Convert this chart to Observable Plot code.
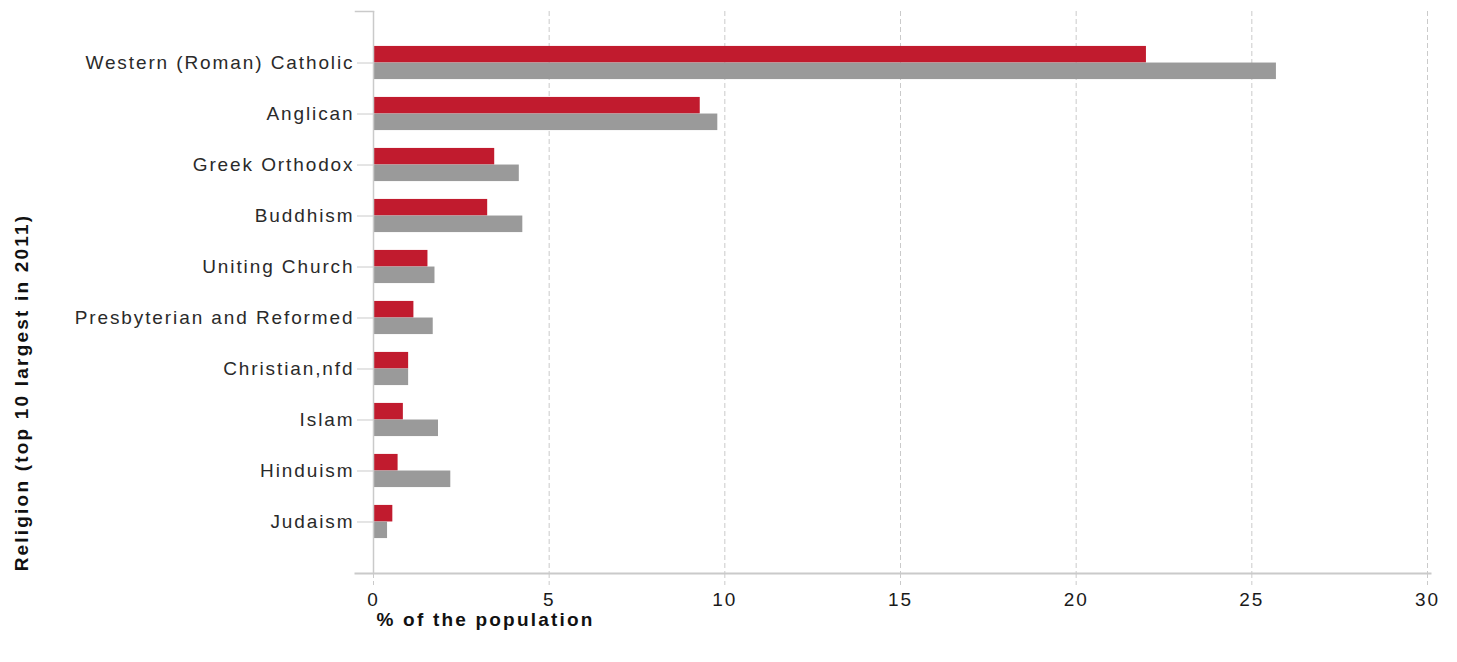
<!DOCTYPE html>
<html>
<head>
<meta charset="utf-8">
<script src="https://cdn.jsdelivr.net/npm/d3@7"></script>
<script src="https://cdn.jsdelivr.net/npm/@observablehq/plot@0.6"></script>
<style>
  html, body { margin: 0; padding: 0; background: #fff; }
  #chart svg text { letter-spacing: 1.9px; }
  #chart svg text.title { letter-spacing: 2.2px; }
</style>
</head>
<body>
<div id="chart"></div>
<script>
const religions = [
  "Western (Roman) Catholic",
  "Anglican",
  "Greek Orthodox",
  "Buddhism",
  "Uniting Church",
  "Presbyterian and Reformed",
  "Christian,nfd",
  "Islam",
  "Hinduism",
  "Judaism"
];
const redValues  = [22.0, 9.3, 3.45, 3.25, 1.55, 1.15, 1.0, 0.85, 0.7, 0.55];
const grayValues = [25.7, 9.8, 4.15, 4.25, 1.75, 1.7, 1.0, 1.85, 2.2, 0.4];
const xTicks = [0, 5, 10, 15, 20, 25, 30];
const yTitle = "Religion (top 10 largest in 2011)";
const xTitle = "% of the population";

const redData = religions.map((r, i) => ({religion: r, value: redValues[i]}));
const grayData = religions.map((r, i) => ({religion: r, value: grayValues[i]}));

const RED = "#c11b2e";
const GRAY = "#9a9a9a";
const LINE = "#cacaca";

const chart = Plot.plot({
  width: 1457,
  height: 662,
  marginLeft: 373,
  marginRight: 30,
  marginTop: 11,
  marginBottom: 89,
  style: {fontFamily: "'Liberation Sans', Arial, sans-serif", fontSize: "19px", color: "#222", background: "#fff"},
  x: {domain: [0, 30], ticks: xTicks, label: null},
  y: {domain: religions, paddingInner: 0.35, paddingOuter: 0.685, round: false, label: null},
  marks: [
    Plot.gridX(xTicks.filter(d => d > 0), {stroke: LINE, strokeOpacity: 1, strokeDasharray: "5,3"}),
    Plot.barX(redData, {y: "religion", x: "value", fill: RED, insetBottom: 16.6}),
    Plot.barX(grayData, {y: "religion", x: "value", fill: GRAY, insetTop: 16.6}),
    Plot.ruleX([0], {stroke: LINE, strokeWidth: 1.5}),
    Plot.frame({anchor: "bottom", stroke: LINE, strokeWidth: 2, insetLeft: -18, insetRight: -3}),
    Plot.frame({anchor: "top", stroke: LINE, strokeWidth: 1.5, insetLeft: -18, insetRight: 1054}),
    Plot.axisX({ticks: xTicks, tickSize: 12, tickPadding: 7, stroke: LINE, strokeDasharray: "5,3", fill: "#1a1a1a", label: null, fontSize: 19}),
    Plot.axisY({tickSize: 16, tickPadding: 3, stroke: LINE, fill: "#2a2a2a", label: null, fontSize: 19}),
    Plot.text([yTitle], {frameAnchor: "left", textAnchor: "middle", lineAnchor: "middle", rotate: -90, dx: -352, dy: 100, fontWeight: "bold", fontSize: 19, fill: "#111", className: "title"}),
    Plot.text([xTitle], {frameAnchor: "bottom-left", textAnchor: "start", lineAnchor: "middle", dx: 3, dy: 46, fontWeight: "bold", fontSize: 19, fill: "#111", className: "title"})
  ]
});
chart.querySelectorAll("g.title text, .title text").forEach(t => t.classList.add("title"));
document.getElementById("chart").appendChild(chart);
</script>
</body>
</html>
